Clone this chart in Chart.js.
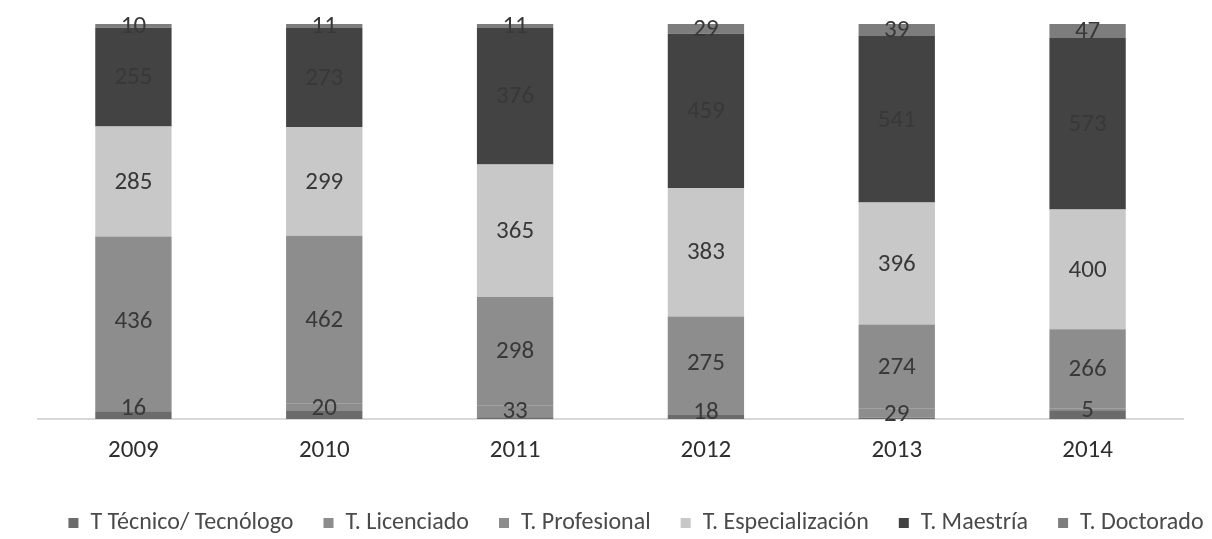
<!DOCTYPE html>
<html>
<head>
<meta charset="utf-8">
<script src="https://cdn.jsdelivr.net/npm/chart.js@4/dist/chart.umd.min.js"></script>
<style>
  html, body { margin: 0; padding: 0; background: #fff; }
  #wrap { width: 1212px; height: 539px; }
</style>
</head>
<body>
<div id="wrap"><canvas id="chart" width="1212" height="539"></canvas></div>
<script>
const years = ['2009', '2010', '2011', '2012', '2013', '2014'];

// valores (técnico sin etiqueta: estimado por altura)
const tecnico = [20, 22, 5, 12, 4, 29];
const licenciado = [16, 20, 33, 18, 29, 5];
const profesional = [436, 462, 298, 275, 274, 266];
const especializacion = [285, 299, 365, 383, 396, 400];
const maestria = [255, 273, 376, 459, 541, 573];
const doctorado = [10, 11, 11, 29, 39, 47];

const seriesNames = ['T Técnico/ Tecnólogo', 'T. Licenciado', 'T. Profesional', 'T. Especialización', 'T. Maestría', 'T. Doctorado'];
const seriesValues = [tecnico, licenciado, profesional, especializacion, maestria, doctorado];
const seriesColors = ['#6b6b6b', '#8d8d8d', '#8d8d8d', '#c8c8c8', '#434343', '#7d7d7d'];
const showLabels = [false, true, true, true, true, true];

const totals = years.map((_, i) => seriesValues.reduce((s, arr) => s + arr[i], 0));

const FONT = 'Carlito, Lato, "Liberation Sans", sans-serif';

const labelPlugin = {
  id: 'labelPlugin',
  afterDatasetsDraw(chart) {
    const ctx = chart.ctx;
    chart.data.datasets.forEach((ds, i) => {
      if (!showLabels[i]) return;
      const meta = chart.getDatasetMeta(i);
      meta.data.forEach((bar, j) => {
        const v = seriesValues[i][j];
        if (!v) return;
        const p = bar.getProps(['x', 'y', 'base'], true);
        ctx.save();
        ctx.fillStyle = '#383838';
        ctx.font = '25px ' + FONT;
        ctx.textAlign = 'center';
        ctx.textBaseline = 'middle';
        ctx.fillText(String(v), p.x, (p.y + p.base) / 2 + 1);
        ctx.restore();
      });
    });
  }
};

// ejes invisibles que solo reservan margen a los lados
const spacer = w => ({
  display: true,
  grid: { display: false },
  border: { display: false },
  ticks: { display: false },
  afterFit(scale) { scale.width = w; }
});

new Chart(document.getElementById('chart').getContext('2d'), {
  type: 'bar',
  data: {
    labels: years,
    datasets: seriesNames.map((name, i) => ({
      label: name,
      data: seriesValues[i].map((v, j) => v / totals[j]),
      backgroundColor: seriesColors[i],
      borderWidth: 0,
      categoryPercentage: 1,
      barPercentage: 0.4
    }))
  },
  options: {
    responsive: false,
    animation: false,
    layout: { padding: { left: 20, right: -40, top: 24, bottom: -6 } },
    scales: {
      x: {
        stacked: true,
        grid: { display: false, drawTicks: false },
        border: { display: true, color: '#d9d9d9', width: 2 },
        ticks: { padding: 17, color: '#2e2e2e', font: { family: FONT, size: 25 } },
        afterFit(scale) { scale.height = 62; }
      },
      y: Object.assign(spacer(18), { stacked: true, min: 0, max: 1 }),
      y1: Object.assign(spacer(69), { position: 'right', min: 0, max: 1 })
    },
    plugins: {
      legend: {
        position: 'bottom',
        labels: {
          boxWidth: 10,
          boxHeight: 10,
          padding: 30,
          color: '#4a4a4a',
          font: { family: FONT, size: 24 }
        }
      },
      tooltip: { enabled: false }
    }
  },
  plugins: [labelPlugin]
});
</script>
</body>
</html>
